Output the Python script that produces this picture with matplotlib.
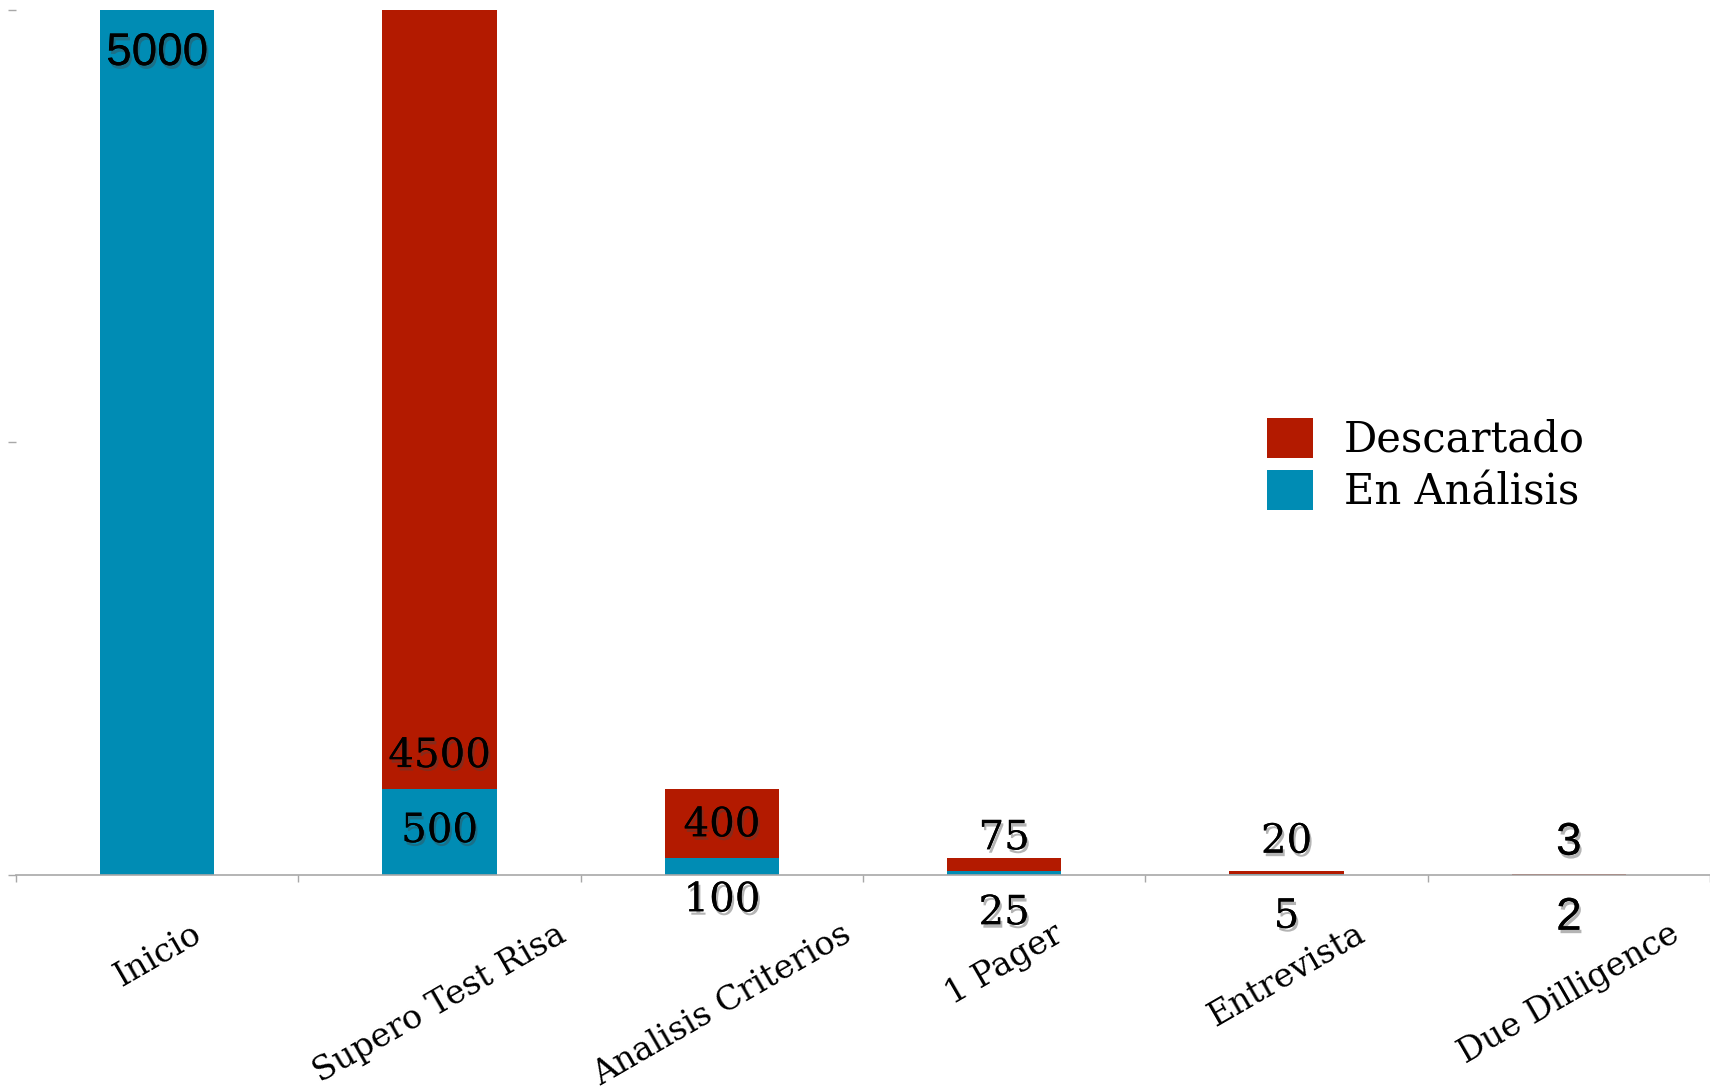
import matplotlib
matplotlib.use("Agg")
import matplotlib.pyplot as plt
import matplotlib.patheffects as pe
import numpy as np

# Datos del embudo
etapas = ["Inicio", "Supero Test Risa", "Analisis Criterios", "1 Pager", "Entrevista", "Due Dilligence"]
en_analisis = [5000, 500, 100, 25, 5, 2]
descartado = [0, 4500, 400, 75, 20, 3]

color_rojo = "#B31A00"
color_azul = "#008CB4"
gris = "#A8A8A8"

# Etiquetas que en el original salen en letra sin serifa
etiquetas_sans = {("azul", 0), ("rojo", 5), ("azul", 5)}

fig = plt.figure(figsize=(17.1, 10.9), dpi=100)
ax = fig.add_axes([16 / 1710, 215 / 1090, 1 - 16 / 1710, 865 / 1090])

x = np.arange(len(etapas))
ancho = 0.405
ax.bar(x, en_analisis, width=ancho, color=color_azul, label="En Análisis")
ax.bar(x, descartado, width=ancho, bottom=en_analisis, color=color_rojo, label="Descartado")

ax.set_xlim(-0.5, len(etapas) - 0.5)
ax.set_ylim(0, 5000)

for s in ["top", "right", "left"]:
    ax.spines[s].set_visible(False)
ax.spines["bottom"].set_color(gris)
ax.spines["bottom"].set_linewidth(1.2)

ax.set_yticks([0, 2500, 5000])
ax.set_yticklabels([])
ax.tick_params(axis="y", length=6, color=gris, width=1)

ax.set_xticks(x)
ax.set_xticklabels(etapas, rotation=30, ha="center", va="top",
                   fontsize=24, family="DejaVu Serif")
ax.tick_params(axis="x", which="major", length=0, pad=31)
ax.set_xticks(np.arange(-0.5, len(etapas) + 0.5, 1), minor=True)
ax.tick_params(axis="x", which="minor", length=5, color=gris, width=1, direction="out")

sombra = [pe.withSimplePatchShadow(offset=(1.5, -2.5), shadow_rgbFace="#444444", alpha=0.4),
          pe.Normal()]

for i in range(len(etapas)):
    limite = en_analisis[i]
    # valor en análisis: por debajo del límite
    sans = ("azul", i) in etiquetas_sans
    ax.annotate(str(en_analisis[i]), (x[i], limite), xytext=(0, -31),
                textcoords="offset points", ha="center", va="center",
                fontsize=33 if sans else 29,
                family="Liberation Sans" if sans else "DejaVu Serif",
                path_effects=sombra)
    if descartado[i] > 0:
        sans = ("rojo", i) in etiquetas_sans
        ax.annotate(str(descartado[i]), (x[i], limite), xytext=(0, 23),
                    textcoords="offset points", ha="center", va="center",
                    fontsize=33 if sans else 29,
                    family="Liberation Sans" if sans else "DejaVu Serif",
                    path_effects=sombra)

handles, labels = ax.get_legend_handles_labels()
leg = fig.legend(handles[::-1], labels[::-1], loc="upper left",
                 bbox_to_anchor=(1246 / 1710, 1 - 397 / 1090),
                 frameon=False, borderpad=0, prop={"family": "DejaVu Serif", "size": 30},
                 handlelength=1.1, handleheight=1.1, handletextpad=0.75,
                 labelspacing=0.22)

fig.savefig("out.png", dpi=100)
